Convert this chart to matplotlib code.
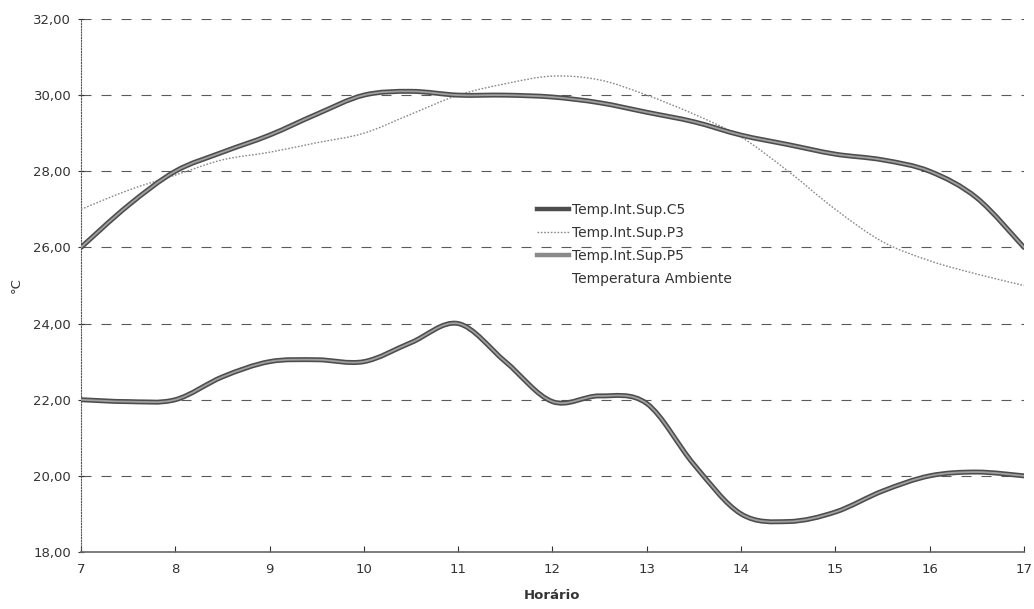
import numpy as np
import matplotlib
matplotlib.use("Agg")
import matplotlib.pyplot as plt
from matplotlib.path import Path
from matplotlib.patches import PathPatch
from matplotlib.lines import Line2D
from matplotlib.ticker import FuncFormatter

plt.rcParams['font.family'] = ['DejaVu Sans']

# Half-hourly readings, 7h to 17h
hours = [7, 7.5, 8, 8.5, 9, 9.5, 10, 10.5, 11, 11.5, 12, 12.5, 13, 13.5,
         14, 14.5, 15, 15.5, 16, 16.5, 17]
temp_c5 = [26.0, 27.1, 28.0, 28.5, 28.95, 29.5, 30.0, 30.1, 30.0, 30.0, 29.95,
           29.8, 29.55, 29.3, 28.95, 28.7, 28.45, 28.3, 28.0, 27.3, 26.0]
temp_p3 = [27.0, 27.5, 27.9, 28.3, 28.5, 28.75, 29.0, 29.5, 30.0, 30.3, 30.5,
           30.4, 30.0, 29.5, 28.9, 28.0, 27.0, 26.15, 25.65, 25.3, 25.0]
temp_p5 = [26.0, 27.1, 28.0, 28.5, 28.95, 29.5, 30.0, 30.1, 30.0, 30.0, 29.95,
           29.8, 29.55, 29.3, 28.95, 28.7, 28.45, 28.3, 28.0, 27.3, 26.0]
temp_amb = [22.0, 21.95, 22.0, 22.6, 23.0, 23.05, 23.0, 23.5, 24.0, 23.0, 21.95,
            22.1, 21.9, 20.3, 19.0, 18.8, 19.05, 19.6, 20.0, 20.1, 20.0]

series_labels = ['Temp.Int.Sup.C5', 'Temp.Int.Sup.P3', 'Temp.Int.Sup.P5',
                 'Temperatura Ambiente']
yticks = [18, 20, 22, 24, 26, 28, 30, 32]
xticks = [7, 8, 9, 10, 11, 12, 13, 14, 15, 16, 17]


def smooth_path(x, y):
    """Bezier path through the readings (spreadsheet-style smoothed line)."""
    x = np.asarray(x, float)
    y = np.asarray(y, float)
    verts = [(x[0], y[0])]
    codes = [Path.MOVETO]
    n = len(x)
    for i in range(n - 1):
        p0 = (x[max(i - 1, 0)], y[max(i - 1, 0)])
        p1 = (x[i], y[i])
        p2 = (x[i + 1], y[i + 1])
        p3 = (x[min(i + 2, n - 1)], y[min(i + 2, n - 1)])
        c1 = (p1[0] + (p2[0] - p0[0]) / 6, p1[1] + (p2[1] - p0[1]) / 6)
        c2 = (p2[0] - (p3[0] - p1[0]) / 6, p2[1] - (p3[1] - p1[1]) / 6)
        verts += [c1, c2, p2]
        codes += [Path.CURVE4] * 3
    return Path(verts, codes)


def draw(ax, x, y, **kw):
    ax.add_patch(PathPatch(smooth_path(x, y), fill=False, **kw))


fig = plt.figure(figsize=(10.34, 6.09), dpi=100)
ax = fig.add_axes([0.0783, 0.0936, 0.912, 0.8752])

ax.set_xlim(7, 17)
ax.set_ylim(18, 32)

for v in yticks[1:]:
    ax.axhline(v, color='#5a5a5a', lw=0.8, ls=(0, (9, 9)), zorder=1)

thick_outer = dict(color='#4d4d4d', lw=3.6, capstyle='round', joinstyle='round')
thick_inner = dict(color='#a0a0a0', lw=1.3, capstyle='round', joinstyle='round')

draw(ax, hours, temp_amb, zorder=3, **thick_outer)
draw(ax, hours, temp_amb, zorder=3, **thick_inner)
draw(ax, hours, temp_p3, color='#8a8a8a', lw=1.0, ls=(0, (1.2, 1.2)), zorder=3)
draw(ax, hours, temp_c5, zorder=4, **thick_outer)
draw(ax, hours, temp_p5, zorder=4, **thick_inner)

ax.set_xticks(xticks)
ax.set_yticks(yticks)
ax.yaxis.set_major_formatter(FuncFormatter(lambda v, p: f"{v:.2f}".replace('.', ',')))
ax.tick_params(axis='both', labelsize=9.5, colors='#333333', length=4)
ax.tick_params(axis='x', direction='in', pad=8)
ax.tick_params(axis='y', direction='inout', pad=5)

for s in ('top', 'right'):
    ax.spines[s].set_visible(False)
ax.spines['left'].set_linestyle((0, (1, 1.5)))
ax.spines['left'].set_color('#555555')
ax.spines['left'].set_linewidth(0.8)
ax.spines['bottom'].set_color('#666666')
ax.spines['bottom'].set_linewidth(1.2)

ax.set_xlabel('Horário', fontsize=9.5, fontweight='bold', color='#333333', labelpad=9)
ax.set_ylabel('°C', fontsize=9.5, color='#333333', labelpad=8)

handles = [
    Line2D([], [], color='#4d4d4d', lw=3.2),
    Line2D([], [], color='#8a8a8a', lw=1.0, ls=(0, (1.2, 1.2))),
    Line2D([], [], color='#8a8a8a', lw=3.2),
    Line2D([], [], color='white', lw=0),
]
fig.legend(handles, series_labels, loc='upper left',
           bbox_to_anchor=(0.507, 0.688), frameon=False, fontsize=10,
           handlelength=2.3, handletextpad=0.25, labelspacing=0.65,
           labelcolor='#333333')

fig.savefig('out.png', dpi=100, facecolor='white')
